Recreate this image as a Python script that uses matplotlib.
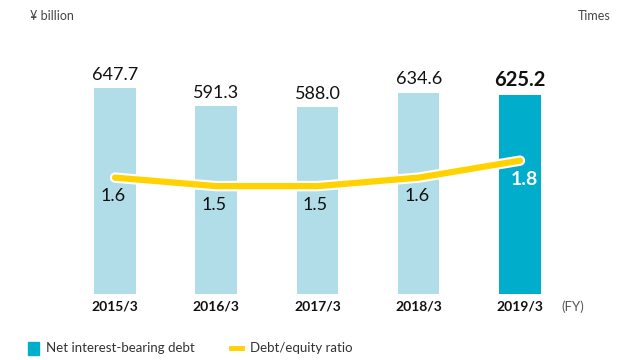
import matplotlib.pyplot as plt
import matplotlib.patheffects as pe
from matplotlib.patches import Rectangle
from matplotlib.lines import Line2D

plt.rcParams['font.family'] = ['Lato', 'DejaVu Sans']

years = ['2015/3', '2016/3', '2017/3', '2018/3', '2019/3']
debt = [647.7, 591.3, 588.0, 634.6, 625.2]
ratio = [1.6, 1.5, 1.5, 1.6, 1.8]

light = '#b0dde8'
dark = '#00aecb'
yellow = '#ffd200'

fig = plt.figure(figsize=(6.2, 3.6), dpi=100)
ax = fig.add_axes([0, 0.1833, 1, 0.7056])
ax2 = ax.twinx()

x = list(range(len(years)))
colors = [light] * (len(years) - 1) + [dark]
ax.bar(x, debt, width=0.41, color=colors, zorder=1)
ax.set_xlim(-1.136, 4.988)
ax.set_ylim(0, 800)

for i, v in enumerate(debt):
    last = i == len(debt) - 1
    ax.text(i, v + 18, f'{v:.1f}', ha='center', va='bottom',
            fontsize=14.5 if last else 13, fontweight='bold' if last else 'normal',
            color='#111111')

# ratio line on its own scale, white halo around it
ax2.set_ylim(0.23, 3.22)
ax2.plot(x, ratio, color=yellow, lw=4.5, solid_capstyle='round',
         path_effects=[pe.Stroke(linewidth=7.5, foreground='white'), pe.Normal()],
         zorder=3)
for i, v in enumerate(ratio):
    last = i == len(ratio) - 1
    ax2.text(i + (0.04 if last else -0.02), v - 0.22, f'{v:.1f}', ha='center', va='center',
             fontsize=14 if last else 13, fontweight='bold' if last else 'normal',
             color='white' if last else '#111111')

for a in (ax, ax2):
    for s in a.spines.values():
        s.set_visible(False)
    a.set_yticks([])
ax.set_xticks(x)
ax.set_xticklabels(years, fontsize=10, fontweight='bold', color='#111111')
ax.tick_params(axis='x', length=0, pad=5)

fig.text(0.905, 0.148, '(FY)', fontsize=9.5, color='#555555', va='center')
fig.text(0.048, 0.955, '¥ billion', fontsize=9, color='#444444', va='center')
fig.text(0.985, 0.955, 'Times', fontsize=9, color='#444444', va='center', ha='right')

# legend
fig.patches.append(Rectangle((0.045, 0.015), 0.018, 0.036, color=dark,
                             transform=fig.transFigure, figure=fig))
fig.text(0.075, 0.032, 'Net interest-bearing debt', fontsize=9.5, color='#333333', va='center')
fig.lines.append(Line2D([0.372, 0.39], [0.032, 0.032], color=yellow, lw=3.5,
                        transform=fig.transFigure, figure=fig))
fig.text(0.403, 0.032, 'Debt/equity ratio', fontsize=9.5, color='#333333', va='center')

fig.savefig('out.png', dpi=100)
